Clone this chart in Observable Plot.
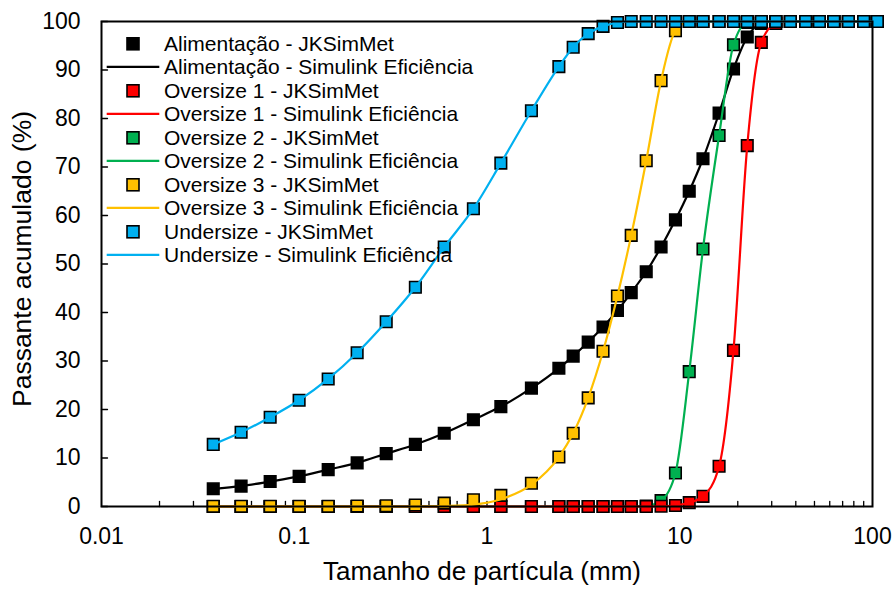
<!DOCTYPE html>
<html><head><meta charset="utf-8">
<script src="https://cdn.jsdelivr.net/npm/d3@7"></script>
<script src="https://cdn.jsdelivr.net/npm/@observablehq/plot@0.6"></script>
<style>
body{margin:0;background:#fff;font-family:"Liberation Sans",Arial,sans-serif;}
#wrap{position:relative;width:895px;height:590px;}
#legend{position:absolute;left:106px;top:31.5px;}
.row{display:flex;align-items:center;height:23.55px;font-size:21px;color:#000;white-space:nowrap;line-height:23.55px}
.sw{width:58px;height:23.55px;flex:none;display:block}
</style></head><body>
<div id="wrap"><div id="legend"></div></div>
<script>
// Sieve sizes (mm)
const sizes = [0.038, 0.053, 0.075, 0.106, 0.15, 0.212, 0.3, 0.425, 0.6, 0.85, 1.18, 1.7, 2.36, 2.8, 3.35, 4.0, 4.75, 5.6, 6.7, 8.0, 9.5, 11.2, 13.2, 16, 19, 22.4, 26.5, 31.5, 37.5, 45, 53, 63, 75, 90, 106];

// JKSimMet (points)
const alimJK = [3.65, 4.2, 5.15, 6.2, 7.6, 9.0, 10.9, 12.8, 15.1, 17.9, 20.6, 24.4, 28.5, 31.0, 33.9, 37.0, 40.4, 44.1, 48.4, 53.5, 59.1, 65.0, 71.7, 81.1, 90.2, 96.8, 99.6, 100, 100, 100, 100, 100, 100, 100, 100];
const over1JK = [0, 0, 0, 0, 0, 0, 0, 0, 0, 0, 0, 0, 0, 0, 0, 0, 0, 0, 0, 0.05, 0.2, 0.8, 2.1, 8.3, 32.2, 74.4, 95.7, 99.6, 100, 100, 100, 100, 100, 100, 100];
const over2JK = [0, 0, 0, 0, 0, 0, 0, 0, 0, 0, 0, 0, 0, 0, 0, 0, 0, 0, 0.1, 1.2, 6.9, 27.8, 53.1, 76.5, 95.2, 99.8, 100, 100, 100, 100, 100, 100, 100, 100, 100];
const over3JK = [0.05, 0.05, 0.05, 0.05, 0.05, 0.1, 0.15, 0.3, 0.7, 1.4, 2.3, 4.8, 10.2, 15.1, 22.4, 32.0, 43.4, 55.9, 71.3, 87.8, 98.1, 100, 100, 100, 100, 100, 100, 100, 100, 100, 100, 100, 100, 100, 100];
const underJK = [12.8, 15.3, 18.4, 21.9, 26.3, 31.7, 38.1, 45.2, 53.5, 61.4, 70.8, 81.6, 90.7, 94.7, 97.5, 99.0, 99.8, 100, 100, 100, 100, 100, 100, 100, 100, 100, 100, 100, 100, 100, 100, 100, 100, 100, 100];

// Simulink Eficiência (lines)
const alimSim = [3.65, 4.2, 5.15, 6.2, 7.6, 9.0, 10.9, 12.8, 15.1, 17.9, 20.6, 24.4, 28.5, 31.0, 33.9, 37.0, 40.4, 44.1, 48.4, 53.5, 59.1, 65.0, 71.7, 81.1, 90.2, 96.8, 99.6, 100, 100, 100, 100, 100, 100, 100, 100];
const over1Sim = [0, 0, 0, 0, 0, 0, 0, 0, 0, 0, 0, 0, 0, 0, 0, 0, 0, 0, 0, 0.05, 0.2, 0.8, 2.1, 8.3, 32.2, 74.4, 95.7, 99.6, 100, 100, 100, 100, 100, 100, 100];
const over2Sim = [0, 0, 0, 0, 0, 0, 0, 0, 0, 0, 0, 0, 0, 0, 0, 0, 0, 0, 0.1, 1.2, 6.9, 27.8, 53.1, 76.5, 95.2, 99.8, 100, 100, 100, 100, 100, 100, 100, 100, 100];
const over3Sim = [0, 0, 0, 0, 0, 0, 0, 0, 0.1, 0.4, 1.5, 4.5, 10.2, 15.1, 22.4, 32.0, 43.4, 55.9, 71.3, 87.8, 98.1, 100, 100, 100, 100, 100, 100, 100, 100, 100, 100, 100, 100, 100, 100];
const underSim = [12.8, 15.3, 18.4, 21.9, 26.3, 31.7, 38.1, 45.2, 53.5, 61.4, 70.8, 81.6, 90.7, 94.7, 97.5, 99.0, 99.8, 100, 100, 100, 100, 100, 100, 100, 100, 100, 100, 100, 100, 100, 100, 100, 100, 100, 100];

const seriesNames = ["Alimentação", "Oversize 1", "Oversize 2", "Oversize 3", "Undersize"];
const seriesColors = ["#000000", "#FF0000", "#00B050", "#FFC000", "#00B0F0"];
const jkSeries = [alimJK, over1JK, over2JK, over3JK, underJK];
const simSeries = [alimSim, over1Sim, over2Sim, over3Sim, underSim];
const drawOrder = [0, 2, 1, 3, 4];

const xTicks = [0.01, 0.1, 1, 10, 100];
const xTickLabels = ["0.01", "0.1", "1", "10", "100"];
const xTickMarks = [0.02,0.03,0.04,0.05,0.06,0.07,0.08,0.09,0.1,0.2,0.3,0.4,0.5,0.6,0.7,0.8,0.9,1,2,3,4,5,6,7,8,9,10,20,30,40,50,60,70,80,90];
const yTicks = [0, 10, 20, 30, 40, 50, 60, 70, 80, 90, 100];
const yTickLabels = ["0", "10", "20", "30", "40", "50", "60", "70", "80", "90", "100"];
const xTitle = "Tamanho de partícula (mm)";
const yTitle = "Passante acumulado (%)";

const tickShape = {draw(context, l) { context.moveTo(0, 0); context.lineTo(0, -l); }};

const seriesMarks = [];
drawOrder.forEach(i => {
  seriesMarks.push(Plot.dot(sizes, {x: sizes, y: jkSeries[i], symbol: "square", r: 6.5, fill: seriesColors[i], stroke: "#000", strokeWidth: 1.6}));
  seriesMarks.push(Plot.line(sizes, {x: sizes, y: simSeries[i], stroke: seriesColors[i], strokeWidth: 2.2, curve: "monotone-x"}));
});

const chart = Plot.plot({
  width: 895, height: 590,
  marginLeft: 101, marginRight: 23, marginTop: 21, marginBottom: 84,
  x: {type: "log", domain: [0.01, 100]},
  y: {domain: [0, 100]},
  style: {fontFamily: "'Liberation Sans', Arial, sans-serif", background: "white", color: "black"},
  marks: [
    Plot.axisX(xTicks, {tickSize: 0, tickPadding: 21, fontSize: 23, tickFormat: d => xTickLabels[xTicks.indexOf(d)], label: null}),
    Plot.axisY(yTicks, {tickSize: 0, tickPadding: 21, fontSize: 23, tickFormat: d => yTickLabels[yTicks.indexOf(d)], label: null}),
    Plot.vector(xTickMarks, {x: d => d, frameAnchor: "bottom", length: 5, rotate: 0, anchor: "start", shape: tickShape, stroke: "black", strokeWidth: 1.3}),
    Plot.vector(yTicks, {y: d => d, frameAnchor: "left", length: 6, rotate: 90, anchor: "start", shape: tickShape, stroke: "black", strokeWidth: 1.3}),
    Plot.text([xTitle], {frameAnchor: "bottom", lineAnchor: "middle", textAnchor: "middle", dy: 65, dx: -5, fontSize: 26, text: d => d, fill: "black"}),
    Plot.text([yTitle], {frameAnchor: "left", lineAnchor: "middle", textAnchor: "middle", dx: -78.5, dy: -5, rotate: -90, fontSize: 26.5, text: d => d, fill: "black"}),
    ...seriesMarks,
    Plot.frame({stroke: "black", strokeWidth: 2})
  ]
});
document.getElementById("wrap").prepend(chart);

// Legend
const legend = document.getElementById("legend");
seriesNames.forEach((name, i) => {
  const r1 = document.createElement("div");
  r1.className = "row";
  r1.innerHTML = `<svg class="sw" width="58" height="23.55"><rect x="21" y="5.8" width="12" height="12" fill="${seriesColors[i]}" stroke="#000" stroke-width="1.6"/></svg><span>${name} - JKSimMet</span>`;
  legend.appendChild(r1);
  const r2 = document.createElement("div");
  r2.className = "row";
  r2.innerHTML = `<svg class="sw" width="58" height="23.55"><line x1="0.7" x2="53.3" y1="11.8" y2="11.8" stroke="${seriesColors[i]}" stroke-width="2.2"/></svg><span>${name} - Simulink Eficiência</span>`;
  legend.appendChild(r2);
});
</script>
</body></html>
